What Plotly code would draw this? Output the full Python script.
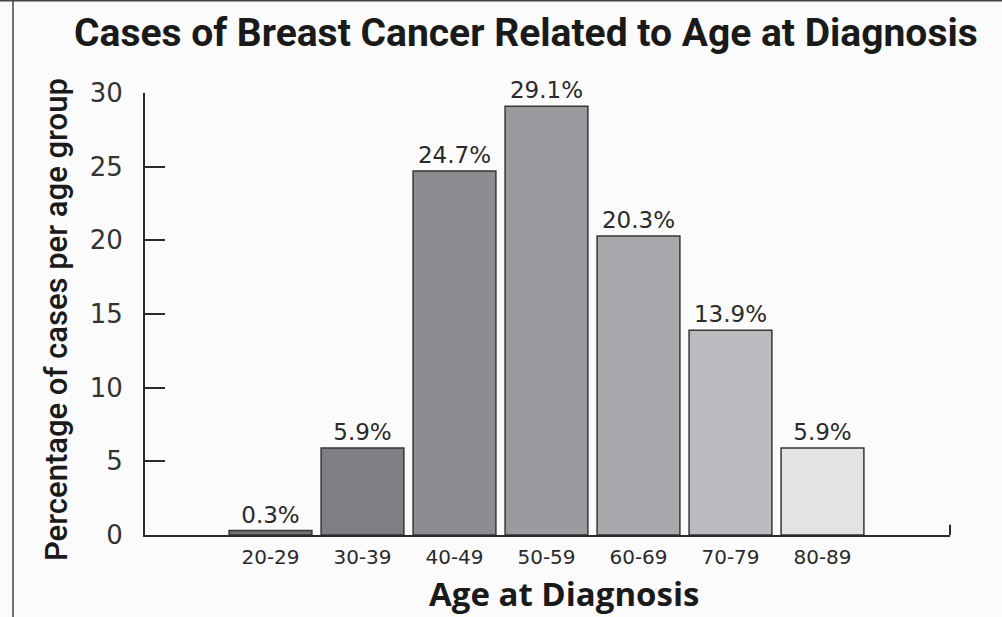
import plotly.graph_objects as go

categories = ["20-29", "30-39", "40-49", "50-59", "60-69", "70-79", "80-89"]
values = [0.3, 5.9, 24.7, 29.1, 20.3, 13.9, 5.9]
labels = ["0.3%", "5.9%", "24.7%", "29.1%", "20.3%", "13.9%", "5.9%"]
bar_colors = ["#717276", "#7e7f83", "#8c8d91", "#9a9b9f", "#a8a9ad", "#bbbcc0", "#e2e3e5"]
y_ticks = [0, 5, 10, 15, 20, 25, 30]

title_text = "Cases of Breast Cancer Related to Age at Diagnosis"
x_title = "Age at Diagnosis"
y_title = "Percentage of cases per age group"

wide = "DejaVu Sans, Verdana, sans-serif"
cond = "Roboto, Liberation Sans, sans-serif"

fig = go.Figure(go.Bar(
    x=list(range(len(categories))),
    y=values,
    text=labels,
    textposition="outside",
    cliponaxis=False,
    textfont=dict(family=wide, size=23, color="#2a2a2a"),
    marker=dict(color=bar_colors, line=dict(color="#363636", width=1.5)),
    width=0.9,
    hoverinfo="skip",
))

L, R, T, B = 145, 52, 93, 82
W, H = 1002, 617
pw = W - L - R
ph = H - T - B


def px_x(x):
    return (x - L) / pw


def px_y(y):
    return 1 - (y - T) / ph


fig.update_layout(
    width=W, height=H,
    margin=dict(l=L, r=R, t=T, b=B, autoexpand=False),
    paper_bgcolor="#fbfbfb",
    plot_bgcolor="#fbfbfb",
    showlegend=False,
    xaxis=dict(
        range=[-1.364, 7.386],
        tickmode="array",
        tickvals=list(range(len(categories))),
        ticktext=categories,
        ticks="",
        showgrid=False, zeroline=False,
        showline=True, linecolor="#2a2a2a", linewidth=2,
        tickfont=dict(family=wide, size=20, color="#2a2a2a"),
        ticklabelstandoff=3,
    ),
    yaxis=dict(
        range=[0, 30],
        tickmode="array",
        tickvals=y_ticks,
        ticks="inside", ticklen=20, tickwidth=2, tickcolor="#2a2a2a",
        showgrid=False, zeroline=False,
        showline=True, linecolor="#2a2a2a", linewidth=2,
        tickfont=dict(family=wide, size=26, color="#333333"),
        ticklabelstandoff=15,
    ),
    annotations=[
        dict(text="<b>" + title_text + "</b>", x=px_x(526), y=px_y(33), xref="paper", yref="paper",
             showarrow=False, font=dict(family=cond, size=39, color="#1a1a1a"),
             xanchor="center", yanchor="middle"),
        dict(text="<b>" + x_title + "</b>", x=px_x(564), y=px_y(593), xref="paper", yref="paper",
             showarrow=False,
             font=dict(family="Open Sans, DejaVu Sans, sans-serif", size=33, color="#1a1a1a"),
             xanchor="center", yanchor="middle"),
        dict(text=y_title, x=px_x(56), y=px_y(320), xref="paper", yref="paper",
             showarrow=False, textangle=-90,
             font=dict(family=cond, size=31, color="#1a1a1a", weight=500),
             xanchor="center", yanchor="middle"),
    ],
)

# end tick at the right end of the x axis
fig.add_shape(type="line", xref="paper", yref="y", x0=1, x1=1, y0=0, y1=0.7,
              line=dict(color="#2a2a2a", width=2))
# page frame lines (left and top)
fig.add_shape(type="line", xref="paper", yref="paper",
              x0=px_x(13), x1=px_x(13), y0=px_y(0), y1=px_y(617),
              line=dict(color="#444444", width=1.5))
fig.add_shape(type="line", xref="paper", yref="paper",
              x0=px_x(0), x1=px_x(1002), y0=px_y(0.5), y1=px_y(0.5),
              line=dict(color="#444444", width=2))

fig.write_html("out.html", config={"displayModeBar": False},
               post_script="document.body.style.margin='0px';")
